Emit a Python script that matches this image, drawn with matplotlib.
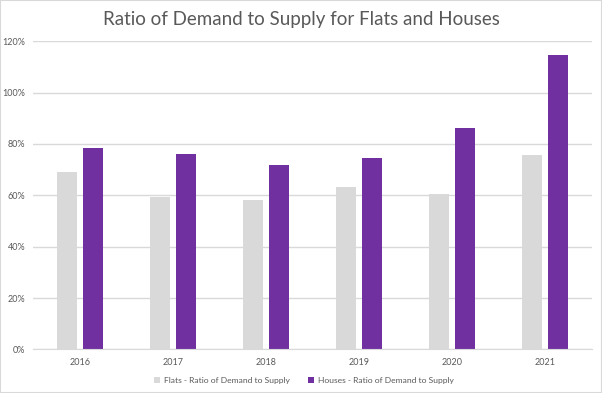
import numpy as np
import matplotlib.pyplot as plt
from matplotlib.ticker import PercentFormatter
from matplotlib.patches import Rectangle

plt.rcParams['font.family'] = ['Lato', 'DejaVu Sans']

years = ['2016', '2017', '2018', '2019', '2020', '2021']
flats = [69.0, 59.5, 58.0, 63.3, 60.5, 75.6]
houses = [78.4, 76.2, 71.7, 74.5, 86.2, 114.5]

grey = '#d9d9d9'
purple = '#7030a0'
text_col = '#595959'

fig = plt.figure(figsize=(6.02, 3.93), dpi=100)
ax = fig.add_axes([0.0556, 0.111, 0.927, 0.784])

x = np.arange(len(years))
w = 0.222
ax.bar(x - 0.141, flats, w, color=grey, label='Flats - Ratio of Demand to Supply', zorder=2)
ax.bar(x + 0.141, houses, w, color=purple, label='Houses - Ratio of Demand to Supply', zorder=2)

ax.set_xlim(-0.5, len(years) - 0.5)
ax.set_ylim(0, 120)
ax.set_yticks(np.arange(0, 121, 20))
ax.yaxis.set_major_formatter(PercentFormatter(decimals=0))
ax.set_xticks(x)
ax.set_xticklabels(years)
ax.grid(axis='y', color=grey, linewidth=1, zorder=0)
ax.tick_params(length=0, labelsize=6.5, colors=text_col, pad=6)
for s in ['top', 'right', 'left']:
    ax.spines[s].set_visible(False)
ax.spines['bottom'].set_color(grey)

fig.text(0.5, 0.95, 'Ratio of Demand to Supply for Flats and Houses',
         ha='center', va='center', fontsize=13.5, color=text_col)

leg = fig.legend(loc='center', bbox_to_anchor=(0.505, 0.033), ncol=2, frameon=False,
                 fontsize=6.1, handlelength=0.7, handleheight=0.7, handletextpad=0.4,
                 columnspacing=2.2)
for t in leg.get_texts():
    t.set_color(text_col)

fig.patches.append(Rectangle((0, 0), 1, 1, transform=fig.transFigure, fill=False,
                             edgecolor=grey, linewidth=1.5))

fig.savefig('out.png', dpi=100)
